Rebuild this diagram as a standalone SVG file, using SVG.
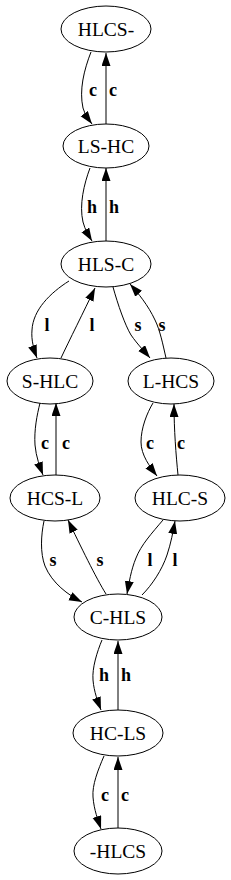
<svg xmlns="http://www.w3.org/2000/svg" width="231" height="880" viewBox="0 0 231 880">
<style>
.n ellipse{fill:#fff;stroke:#000;stroke-width:1}
.n text{font-size:19.5px;text-anchor:middle;fill:#000}
.e path{fill:none;stroke:#000;stroke-width:1;marker-end:url(#ah)}
.lbl{font-size:18px;font-weight:bold;text-anchor:middle;fill:#000}
</style>
<defs>
<marker id="ah" markerUnits="userSpaceOnUse" markerWidth="14" markerHeight="10" refX="13" refY="4.5" orient="auto">
<path d="M0,0 L13,4.5 L0,9 z" fill="#000"/>
</marker>
</defs>
<rect width="231" height="880" fill="#fff"/>
<g id="edges" class="e">
<path d="M91,52 C84,70 79,90 83,108 C85,115 89,120 92,124"/>
<path d="M106,124 L106,53"/>
<path d="M90,168 C84,184 79,205 83,222 C85,230 89,236 92,241"/>
<path d="M106,241 L106,168"/>
<path d="M69,281 C50,293 33,310 32,330 C31,340 34,350 37,358"/>
<path d="M61,358 C69,341 84,311 95,288"/>
<path d="M113,287 C118,305 125,325 131,335 C138,345 145,352 150,358"/>
<path d="M166,358 C163,345 160,330 155,320 C148,305 138,293 130,284"/>
<path d="M40,403 C37,415 34,430 35,445 C36,457 40,467 43,475"/>
<path d="M56,475 L56,403"/>
<path d="M153,403 C147,413 141,428 141,442 C141,455 150,467 157,476"/>
<path d="M178,475 C176,455 174,430 174,404"/>
<path d="M44,521 C41,535 40,553 45,566 C52,583 68,595 82,602"/>
<path d="M106,594 C96,578 80,545 68,520"/>
<path d="M163,520 C152,533 141,545 136,558 C131,570 129,583 127,594"/>
<path d="M142,595 C152,585 162,570 167,555 C171,543 173,532 175,521"/>
<path d="M102,640 C97,652 92,668 93,680 C94,692 98,702 101,710"/>
<path d="M118,711 L118,641"/>
<path d="M104,756 C98,770 92,785 93,797 C94,810 98,820 101,829"/>
<path d="M118,829 L118,757"/>
</g>
<g id="labels" font-family="Liberation Serif, Times New Roman, serif">
<text class="lbl" x="93" y="96">c</text>
<text class="lbl" x="113" y="96">c</text>
<text class="lbl" x="92" y="213">h</text>
<text class="lbl" x="114" y="213">h</text>
<text class="lbl" x="47" y="331">l</text>
<text class="lbl" x="92" y="331">l</text>
<text class="lbl" x="138" y="331">s</text>
<text class="lbl" x="162" y="331">s</text>
<text class="lbl" x="45" y="449">c</text>
<text class="lbl" x="66" y="449">c</text>
<text class="lbl" x="150" y="449">c</text>
<text class="lbl" x="181" y="449">c</text>
<text class="lbl" x="53" y="566">s</text>
<text class="lbl" x="100" y="566">s</text>
<text class="lbl" x="150" y="566">l</text>
<text class="lbl" x="175" y="566">l</text>
<text class="lbl" x="104" y="681">h</text>
<text class="lbl" x="126" y="681">h</text>
<text class="lbl" x="105" y="801">c</text>
<text class="lbl" x="125" y="801">c</text>
</g>
<g id="nodes" font-family="Liberation Serif, Times New Roman, serif">
<g id="n1" class="n"><ellipse cx="106" cy="29" rx="45" ry="23"/><text x="106" y="36">HLCS-</text></g>
<g id="n2" class="n"><ellipse cx="106" cy="146" rx="43" ry="22"/><text x="106" y="153">LS-HC</text></g>
<g id="n3" class="n"><ellipse cx="106" cy="264" rx="45" ry="23"/><text x="106" y="271">HLS-C</text></g>
<g id="n4" class="n"><ellipse cx="50" cy="381" rx="43" ry="23"/><text x="50" y="388">S-HLC</text></g>
<g id="n5" class="n"><ellipse cx="171" cy="381" rx="43" ry="23"/><text x="171" y="388">L-HCS</text></g>
<g id="n6" class="n"><ellipse cx="55" cy="498" rx="45" ry="23"/><text x="55" y="505">HCS-L</text></g>
<g id="n7" class="n"><ellipse cx="180" cy="498" rx="45" ry="23"/><text x="180" y="505">HLC-S</text></g>
<g id="n8" class="n"><ellipse cx="118" cy="617" rx="44" ry="23"/><text x="118" y="624">C-HLS</text></g>
<g id="n9" class="n"><ellipse cx="118" cy="733" rx="45" ry="23"/><text x="118" y="740">HC-LS</text></g>
<g id="n10" class="n"><ellipse cx="118" cy="851" rx="44" ry="23"/><text x="118" y="858">-HLCS</text></g>
</g>
</svg>
